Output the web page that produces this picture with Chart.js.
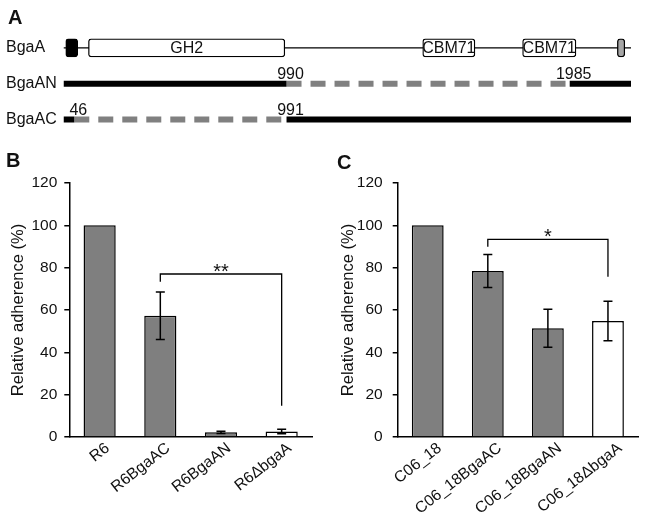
<!DOCTYPE html>
<html>
<head>
<meta charset="utf-8">
<script src="https://cdn.jsdelivr.net/npm/chart.js@4.4.0/dist/chart.umd.min.js"></script>
<style>
html, body { margin: 0; padding: 0; background: #fff; }
#wrap { position: relative; width: 645px; height: 518px; overflow: hidden; font-family: 'Liberation Sans', Arial, sans-serif; }
canvas { position: absolute; }
.panel { position: absolute; font-weight: bold; font-size: 20px; line-height: 1; color: #111; }
</style>
</head>
<body>
<div id="wrap">
  <canvas id="chartA" width="645" height="150" style="left:0;top:0"></canvas>
  <canvas id="chartB" width="322" height="378" style="left:0;top:140px"></canvas>
  <canvas id="chartC" width="323" height="378" style="left:322px;top:140px"></canvas>
  <div class="panel" style="left:8px;top:7px">A</div>
  <div class="panel" style="left:6px;top:150px">B</div>
  <div class="panel" style="left:337px;top:152px">C</div>
</div>
<script>
const FONT = "'Liberation Sans', Arial, sans-serif";
Chart.defaults.font.family = FONT;
Chart.defaults.color = '#111';

// Panel A - domain map (positions in % of the drawn protein length)
const rows = ['BgaA', 'BgaAN', 'BgaAC'];
const domainNames = ['', 'GH2', 'CBM71', 'CBM71', ''];
const domainStart = [0.4, 4.4, 63.3, 80.9, 97.6];
const domainEnd = [2.5, 39.0, 72.5, 90.3, 98.9];
const domainFill = ['#000000', '#ffffff', '#ffffff', '#ffffff', '#a6a6a6'];
const anKept = [[0, 39.3], [89.2, 100]];
const anDeleted = [[39.3, 89.2]];
const acKept = [[0, 1.9], [39.3, 100]];
const acDeleted = [[1.9, 39.3]];
const siteText = ['990', '1985', '46', '991'];
const sitePos = [39.3, 89.2, 1.9, 39.3];
const siteRow = ['BgaAN', 'BgaAN', 'BgaAC', 'BgaAC'];

// Panels B and C - relative adherence
const strainsB = ['R6', 'R6BgaAC', 'R6BgaAN', 'R6\u0394bgaA'];
const adherenceB = [100, 57.3, 2.2, 2.6];
const errorB = [0, 11.2, 0.5, 1.1];
const strainsC = ['C06_18', 'C06_18BgaAC', 'C06_18BgaAN', 'C06_18\u0394bgaA'];
const adherenceC = [100, 78.4, 51.4, 54.8];
const errorC = [0, 7.8, 9.0, 9.3];
const barFill = ['#7f7f7f', '#7f7f7f', '#7f7f7f', '#ffffff'];
const bracketB = { from: 1, to: 3, level: 77, leftEnd: 73.4, rightEnd: 14.8, text: '**' };
const bracketC = { from: 1, to: 3, level: 93.4, leftEnd: 89.9, rightEnd: 75.7, text: '*' };

const seg = (row, range, color, dash) => ({
    type: 'line',
    data: [{ x: range[0], y: row }, { x: range[1], y: row }],
    borderColor: color,
    borderWidth: 6,
    borderDash: dash || [],
    borderCapStyle: 'butt',
    pointRadius: 0,
    order: 2
});

const mapText = {
    id: 'mapText',
    afterDatasetsDraw(chart) {
        const { ctx, scales: { x, y } } = chart;
        const bars = chart.getDatasetMeta(0).data;
        ctx.save();
        ctx.fillStyle = '#111';
        ctx.font = '16px ' + FONT;
        ctx.textAlign = 'center';
        ctx.textBaseline = 'middle';
        domainNames.forEach((t, i) => {
            if (!t) return;
            const c = bars[i].getCenterPoint();
            ctx.fillText(t, c.x, c.y + 1);
        });
        ctx.textBaseline = 'alphabetic';
        siteText.forEach((t, i) => {
            ctx.fillText(t, x.getPixelForValue(sitePos[i]) + 4, y.getPixelForValue(rows.indexOf(siteRow[i])) - 5);
        });
        ctx.restore();
    }
};

new Chart(document.getElementById('chartA'), {
    type: 'bar',
    data: {
        labels: rows,
        datasets: [
            {
                type: 'bar',
                data: domainStart.map((s, i) => ({ x: [s, domainEnd[i]], y: 'BgaA' })),
                backgroundColor: domainFill,
                borderColor: '#000',
                borderWidth: 1.3,
                borderSkipped: false,
                borderRadius: 3,
                barThickness: 18,
                order: 1
            },
            { type: 'line', data: [{ x: 0, y: 'BgaA' }, { x: 100, y: 'BgaA' }], borderColor: '#000', borderWidth: 1.3, pointRadius: 0, order: 3 },
            ...anKept.map(r => seg('BgaAN', r, '#000')),
            ...anDeleted.map(r => seg('BgaAN', r, '#808080', [15, 9])),
            ...acKept.map(r => seg('BgaAC', r, '#000')),
            ...acDeleted.map(r => seg('BgaAC', r, '#808080', [15, 9]))
        ]
    },
    options: {
        indexAxis: 'y',
        responsive: false,
        animation: false,
        layout: { padding: { left: 6, right: 14, top: 30, bottom: 8 } },
        plugins: { legend: { display: false }, tooltip: { enabled: false } },
        scales: {
            x: { type: 'linear', min: 0, max: 100, display: false },
            y: {
                type: 'category',
                offset: true,
                grid: { display: false },
                border: { display: false },
                ticks: { crossAlign: 'far', font: { size: 16 }, color: '#111' },
                afterFit: s => { s.width = 57.5; }
            }
        }
    },
    plugins: [mapText]
});

const sigPlugin = {
    id: 'sig',
    afterDatasetsDraw(chart, args, opts) {
        const { ctx, scales: { y } } = chart;
        const bars = chart.getDatasetMeta(0).data;
        const vals = chart.data.datasets[0].data;
        ctx.save();
        ctx.strokeStyle = '#000';
        ctx.lineWidth = 1.5;
        opts.errors.forEach((e, i) => {
            if (!e) return;
            const x = bars[i].x;
            const top = y.getPixelForValue(vals[i] + e);
            const bot = y.getPixelForValue(vals[i] - e);
            ctx.beginPath();
            ctx.moveTo(x, top); ctx.lineTo(x, bot);
            ctx.moveTo(x - 4.5, top); ctx.lineTo(x + 4.5, top);
            ctx.moveTo(x - 4.5, bot); ctx.lineTo(x + 4.5, bot);
            ctx.stroke();
        });
        const b = opts.bracket;
        const x1 = bars[b.from].x, x2 = bars[b.to].x, yl = y.getPixelForValue(b.level);
        ctx.lineWidth = 1.3;
        ctx.beginPath();
        ctx.moveTo(x1, y.getPixelForValue(b.leftEnd));
        ctx.lineTo(x1, yl);
        ctx.lineTo(x2, yl);
        ctx.lineTo(x2, y.getPixelForValue(b.rightEnd));
        ctx.stroke();
        ctx.fillStyle = '#111';
        ctx.font = '20px ' + FONT;
        ctx.textAlign = 'center';
        ctx.textBaseline = 'alphabetic';
        ctx.fillText(b.text, (x1 + x2) / 2, yl + 4);
        ctx.restore();
    }
};

function adherenceChart(id, labels, values, errors, bracket, axisW, rightPad, tickPad, titlePad, labelShift) {
    return new Chart(document.getElementById(id), {
        type: 'bar',
        data: {
            labels: labels,
            datasets: [{
                data: values,
                backgroundColor: barFill,
                borderColor: '#000',
                borderWidth: 1.5,
                barPercentage: 0.53,
                categoryPercentage: 1
            }]
        },
        options: {
            responsive: false,
            animation: false,
            layout: { padding: { top: 43, right: rightPad, left: 0, bottom: 0 } },
            plugins: {
                legend: { display: false },
                tooltip: { enabled: false },
                sig: { errors: errors, bracket: bracket }
            },
            scales: {
                x: {
                    grid: { display: false },
                    border: { display: true, color: '#000', width: 1.5 },
                    ticks: { font: { size: 15.7 }, color: '#111', minRotation: 38, maxRotation: 38, autoSkip: false, padding: -6, labelOffset: labelShift },
                    afterFit: s => { s.height = 81; }
                },
                y: {
                    min: 0,
                    max: 120,
                    ticks: { stepSize: 20, font: { size: 15.5 }, color: '#111', padding: tickPad },
                    grid: { drawOnChartArea: false, color: '#000', lineWidth: 1.5, tickLength: 5 },
                    border: { color: '#000', width: 1.5 },
                    title: { display: true, text: 'Relative adherence (%)', font: { size: 16.5 }, color: '#111', padding: { top: titlePad, bottom: 0 } },
                    afterFit: s => { s.width = axisW; }
                }
            }
        },
        plugins: [sigPlugin]
    });
}

adherenceChart('chartB', strainsB, adherenceB, errorB, bracketB, 69.3, 10, 7, 9, 8);
adherenceChart('chartC', strainsC, adherenceC, errorC, bracketC, 75.7, 7, 10, 17, 12);
</script>
</body>
</html>
